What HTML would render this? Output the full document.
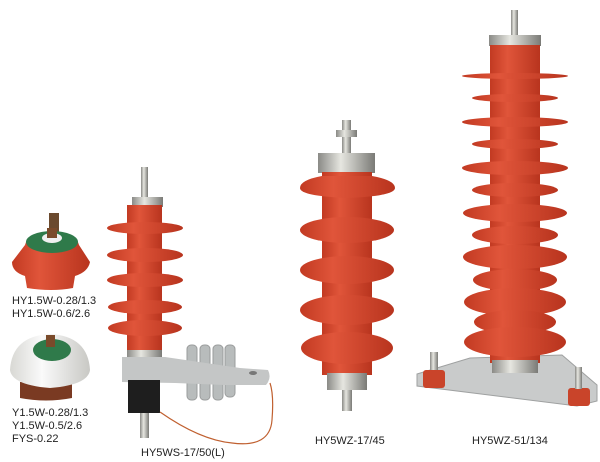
<!DOCTYPE html>
<html><head><meta charset="utf-8"><style>
html,body{margin:0;padding:0;background:#fff;}
svg{display:block}
text{font-family:"Liberation Sans",Arial,sans-serif;font-size:11px;fill:#222}
</style></head><body>
<svg width="600" height="462" viewBox="0 0 600 462" xmlns="http://www.w3.org/2000/svg">
<defs>
<linearGradient id="red" x1="0" x2="1" y1="0" y2="0">
<stop offset="0" stop-color="#c23a22"/><stop offset="0.35" stop-color="#e0553a"/><stop offset="1" stop-color="#b8341e"/></linearGradient>
<linearGradient id="met" x1="0" x2="1"><stop offset="0" stop-color="#8a8a86"/><stop offset="0.4" stop-color="#e6e6e0"/><stop offset="1" stop-color="#7a7a76"/></linearGradient>
<linearGradient id="wh" x1="0" x2="1"><stop offset="0" stop-color="#d8d8d4"/><stop offset="0.4" stop-color="#fafafa"/><stop offset="1" stop-color="#c8c8c4"/></linearGradient>
</defs>

<!-- small red -->
<rect x="49" y="213" width="10" height="20" fill="#6b4a2e"/>
<path d="M25 245 Q28 232 52 231 Q76 232 79 245 L90 262 Q88 272 75 276 L73 288 Q52 292 27 288 L25 276 Q12 272 12 262 Z" fill="url(#red)"/>
<ellipse cx="52" cy="242" rx="26" ry="11" fill="#2f7a4a"/>
<ellipse cx="52" cy="238" rx="10" ry="5" fill="#f0f0f0"/>
<rect x="47" y="228" width="10" height="10" fill="#7a4a2a"/>
<text x="12" y="304">HY1.5W-0.28/1.3</text>
<text x="12" y="317">HY1.5W-0.6/2.6</text>

<!-- small white -->
<path d="M20 382 L72 382 L72 398 Q46 403 20 398 Z" fill="#7a3a22"/>
<path d="M10 370 Q12 336 50 334 Q88 336 90 370 Q88 385 50 388 Q12 385 10 370 Z" fill="url(#wh)"/>
<ellipse cx="52" cy="350" rx="19" ry="11" fill="#2f7a4a"/>
<rect x="46" y="335" width="9" height="12" fill="#7a4a2a"/>
<text x="12" y="416">Y1.5W-0.28/1.3</text>
<text x="12" y="429">Y1.5W-0.5/2.6</text>
<text x="12" y="442">FYS-0.22</text>

<!-- HY5WS -->
<rect x="141" y="167" width="7" height="30" fill="url(#met)"/>
<rect x="132" y="197" width="31" height="10" fill="url(#met)"/>
<rect x="127" y="205" width="35" height="147" fill="url(#red)"/>
<g fill="url(#red)">
<ellipse cx="145" cy="228" rx="38" ry="6"/><ellipse cx="145" cy="255" rx="38" ry="7"/>
<ellipse cx="145" cy="280" rx="38" ry="7"/><ellipse cx="145" cy="307" rx="37" ry="7"/>
<ellipse cx="145" cy="328" rx="37" ry="8"/></g>
<rect x="127" y="350" width="35" height="8" fill="url(#met)"/>
<g fill="#b8bcbc" stroke="#9a9c9c" stroke-width="1">
<rect x="187" y="345" width="10" height="55" rx="4"/><rect x="200" y="345" width="10" height="55" rx="4"/>
<rect x="213" y="345" width="10" height="55" rx="4"/><rect x="225" y="345" width="10" height="52" rx="4"/>
</g>
<path d="M122 357 L165 357 L240 368 L268 370 Q272 378 266 385 L225 385 L175 383 L122 382 Z" fill="#c4c6c6"/>
<ellipse cx="253" cy="373" rx="4" ry="2" fill="#777"/>
<rect x="128" y="380" width="32" height="33" fill="#1e1e1e"/>
<rect x="140" y="413" width="9" height="25" fill="url(#met)"/>
<path d="M160 412 Q200 440 232 443 Q270 448 272 420 Q274 395 270 383" fill="none" stroke="#c06030" stroke-width="1.2"/>
<text x="141" y="456">HY5WS-17/50(L)</text>

<!-- HY5WZ-17/45 -->
<rect x="342" y="120" width="9" height="34" fill="url(#met)"/>
<rect x="336" y="130" width="21" height="7" fill="url(#met)"/>
<rect x="318" y="153" width="57" height="20" fill="url(#met)"/>
<rect x="322" y="172" width="50" height="203" fill="url(#red)"/>
<g fill="url(#red)">
<path d="M300 188 Q300 180 322 176 L372 176 Q395 180 395 188 Q395 196 347 198 Q300 196 300 188 Z"/>
<ellipse cx="347" cy="230" rx="47" ry="13"/><ellipse cx="347" cy="270" rx="47" ry="14"/>
<ellipse cx="347" cy="310" rx="47" ry="15"/><ellipse cx="347" cy="348" rx="46" ry="16"/></g>
<rect x="327" y="373" width="40" height="17" fill="url(#met)"/>
<rect x="342" y="390" width="10" height="21" fill="url(#met)"/>
<text x="315" y="444">HY5WZ-17/45</text>

<!-- HY5WZ-51/134 -->
<path d="M417 374 L470 358 L562 355 L597 385 L597 401 L577 406 L417 386 Z" fill="#c9cbcb" stroke="#9fa1a1"/>
<rect x="511" y="10" width="7" height="27" fill="url(#met)"/>
<rect x="489" y="35" width="52" height="11" fill="url(#met)"/>
<rect x="490" y="45" width="50" height="318" fill="url(#red)"/>
<g fill="url(#red)">
<ellipse cx="515" cy="76" rx="53" ry="3"/><ellipse cx="515" cy="98" rx="43" ry="4"/>
<ellipse cx="515" cy="122" rx="53" ry="5"/><ellipse cx="515" cy="144" rx="43" ry="5"/>
<ellipse cx="515" cy="168" rx="53" ry="7"/><ellipse cx="515" cy="190" rx="43" ry="7"/>
<ellipse cx="515" cy="213" rx="52" ry="9"/><ellipse cx="515" cy="235" rx="43" ry="9"/>
<ellipse cx="515" cy="257" rx="52" ry="12"/><ellipse cx="515" cy="280" rx="42" ry="11"/>
<ellipse cx="515" cy="302" rx="51" ry="14"/><ellipse cx="515" cy="322" rx="41" ry="12"/>
<ellipse cx="515" cy="342" rx="51" ry="15"/></g>
<rect x="492" y="360" width="46" height="13" fill="url(#met)"/>
<rect x="423" y="370" width="22" height="18" rx="3" fill="#c9442a"/>
<rect x="430" y="352" width="8" height="18" fill="url(#met)"/>
<rect x="568" y="388" width="22" height="18" rx="3" fill="#c9442a"/>
<rect x="575" y="367" width="7" height="22" fill="url(#met)"/>
<text x="472" y="444">HY5WZ-51/134</text>
</svg>
</body></html>
